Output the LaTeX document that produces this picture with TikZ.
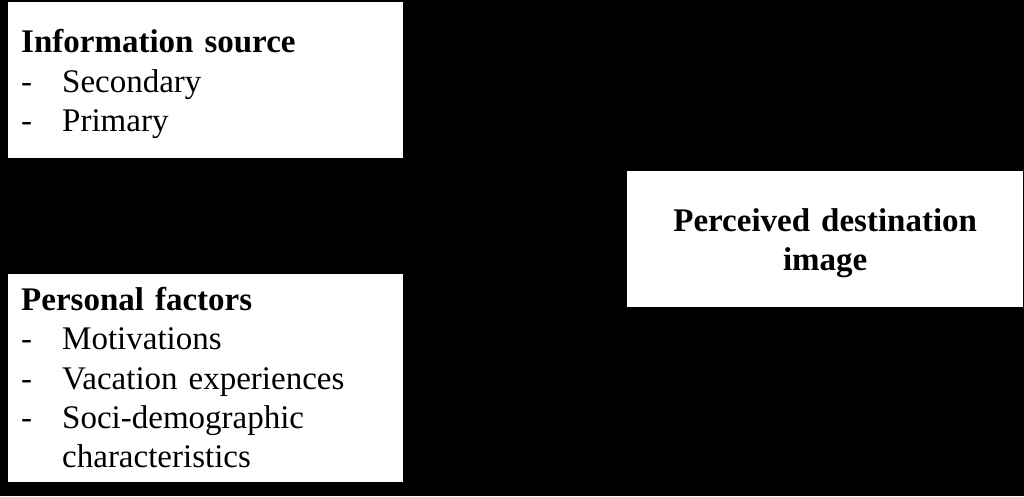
\documentclass[tikz,border=0pt]{standalone}
\usepackage{fontspec}
\setmainfont{Liberation Serif}
\usetikzlibrary{positioning}

\newcommand{\dashline}[1]{\makebox[41pt][l]{-}#1}
\newcommand{\topstrut}{\rule{0pt}{31pt}}

\begin{document}
\begin{tikzpicture}[
    x=1pt, y=-1pt,
    font=\fontsize{33}{39.3}\selectfont,
    % Style definitions
    factorbox/.style={fill=white, inner xsep=13pt, inner ysep=0pt, minimum width=395pt, text width=369pt, align=left},
    imagebox/.style={fill=white, inner sep=0pt, minimum width=396pt, minimum height=136pt, text width=380pt, align=center, font=\fontsize{33}{39.3}\selectfont\bfseries},
]

%% ---------- BACKGROUND ----------
\fill[black] (0,0) rectangle (1024,496);
\useasboundingbox (0,0) rectangle (1024,496);

%% ---------- FACTORS ----------
\node[factorbox, minimum height=156pt, anchor=north west] (info_source) at (8,2)
    {\topstrut\textbf{Information source}\\
     \dashline{Secondary}\\
     \dashline{Primary}};
\node[factorbox, minimum height=208pt, below=115pt of info_source] (personal_factors)
    {\textbf{Personal factors}\\
     \dashline{Motivations}\\
     \dashline{Vacation experiences}\\
     \dashline{Soci-demographic}\\
     \hspace*{41pt}characteristics};

%% ---------- DESTINATION IMAGE ----------
\node[imagebox, anchor=north west] (dest_image) at (627,171) {\topstrut Perceived destination\\image};

\end{tikzpicture}
\end{document}
